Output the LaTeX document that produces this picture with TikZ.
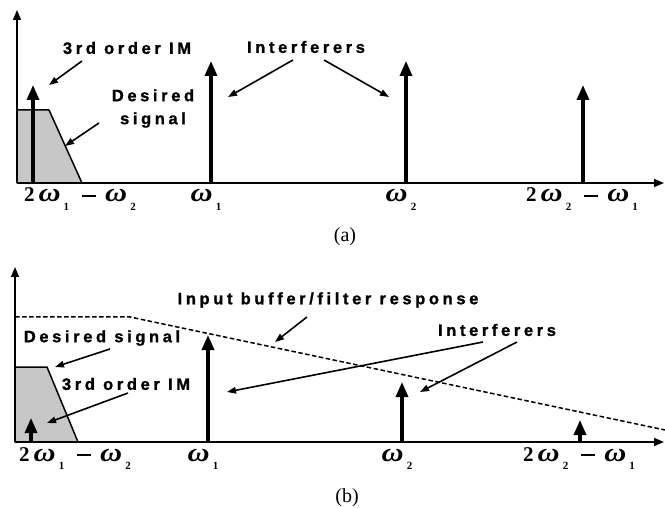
\documentclass[tikz,border=0pt]{standalone}
\usepackage{fontspec}
\usepackage{graphicx}
\usepackage{tikz}
\usetikzlibrary{arrows.meta}
\newfontfamily\notefont{Liberation Sans}[LetterSpace=22, FakeBold=1.2]
\newfontfamily\lblfont{Liberation Serif}
\newcommand{\wsub}[1]{\scalebox{1.45}[1.25]{\textit{ω}}\hspace{3pt}\raisebox{-8.5pt}{\fontsize{11}{12}\selectfont #1}}
\newcommand{\imlbl}[2]{2\hspace{4pt}\wsub{#1}\hspace{13pt}\rule[5pt]{14pt}{1.6pt}\hspace{9pt}\wsub{#2}}

\begin{document}
\begin{tikzpicture}[
    x=1pt, y=-1pt,
    axis/.style={line width=1.6pt, -{Triangle[length=10pt,width=8pt]}},
    tone/.style={line width=3.2pt, -{Triangle[length=15pt,width=12pt]}},
    band/.style={draw, line width=1.5pt, fill=black!22, line join=round},
    resp/.style={line width=1.5pt, dash pattern=on 4.5pt off 2.5pt},
    note/.style={font=\notefont\bfseries\fontsize{16.5}{23}\selectfont, inner sep=0pt, align=center},
    pointer/.style={line width=1.6pt, -{Triangle[length=9pt,width=6.5pt]}},
    flbl/.style={font=\lblfont\bfseries\fontsize{21}{24}\selectfont, anchor=base, inner sep=0pt},
    sublbl/.style={font=\lblfont\fontsize{20}{24}\selectfont, inner sep=0pt}
]
\useasboundingbox (0,0) rectangle (665,508);
%% Panel (a)
% --- Desired signal band and axes ---
\coordinate (oA) at (17,183);
\coordinate (yA) at (17,10);
\coordinate (xA) at (664,183);
\draw[band] (oA) -- (17,110) -- (49,110) -- (82,183) -- cycle;
\draw[axis] (oA) -- (yA);
\draw[axis] (oA) -- (xA);
% --- Tones: 3rd order IM, interferers ---
\foreach \n/\x/\h in {imA/33/85, wlA/211/61, whA/406/61, ixA/583/85} {
    \coordinate (\n b) at (\x,183);
    \coordinate (\n t) at (\x,\h);
    \draw[tone] (\n b) -- (\n t);
}
% --- Frequency labels ---
\node[flbl] (fImA) at (80,202)  {\imlbl{1}{2}};
\node[flbl] (fWlA) at (206,202) {\wsub{1}};
\node[flbl] (fWhA) at (401,202) {\wsub{2}};
\node[flbl] (fIxA) at (582,202) {\imlbl{2}{1}};
% --- Notes with pointers ---
\node[note] (nImA)  at (127,48)    {3rd order IM};
\node[note] (nSigA) at (153,108.5) {Desired\\signal};
\node[note] (nIntA) at (306,47)    {Interferers};
\coordinate (sImA)  at (82,61);   \coordinate (pImA)  at (49,85);
\coordinate (sSigA) at (99,123);  \coordinate (pSigA) at (65,146);
\coordinate (sIntA) at (293,60);  \coordinate (pIntA) at (228,97);
\coordinate (sIntB) at (324,60);  \coordinate (pIntB) at (389,97);
\draw[pointer] (sImA) -- (pImA);
\draw[pointer] (sSigA) -- (pSigA);
\draw[pointer] (sIntA) -- (pIntA);
\draw[pointer] (sIntB) -- (pIntB);
\node[sublbl] (capA) at (345,237) {(a)};

%% Panel (b)
% --- Desired signal band and axes ---
\coordinate (oB) at (15,442);
\coordinate (yB) at (15,267);
\coordinate (xB) at (664,442);
\draw[band] (oB) -- (15,367) -- (47,367) -- (78,442) -- cycle;
\draw[axis] (oB) -- (yB);
\draw[axis] (oB) -- (xB);
% --- Filter response ---
\coordinate (r0) at (15,317);
\coordinate (r1) at (130,317);
\coordinate (r2) at (665,430);
\draw[resp] (r0) -- (r1) -- (r2);
% --- Tones after filtering ---
\foreach \n/\x/\h in {imB/31/418, wlB/208/335, whB/402/382, ixB/580/420} {
    \coordinate (\n b) at (\x,442);
    \coordinate (\n t) at (\x,\h);
    \draw[tone] (\n b) -- (\n t);
}
% --- Frequency labels ---
\node[flbl] (fImB) at (75,461)  {\imlbl{1}{2}};
\node[flbl] (fWlB) at (203,461) {\wsub{1}};
\node[flbl] (fWhB) at (397,461) {\wsub{2}};
\node[flbl] (fIxB) at (579,461) {\imlbl{2}{1}};
% --- Notes with pointers ---
\node[note] (nResB) at (328,300) {Input buffer/filter response};
\node[note] (nIntB) at (497,330) {Interferers};
\node[note] (nSigB) at (102,338) {Desired signal};
\node[note] (nImB)  at (126,384) {3rd order IM};
\coordinate (sResB) at (307,317); \coordinate (pResB) at (275,342);
\coordinate (sIntC) at (483,342); \coordinate (pIntC) at (227,392);
\coordinate (sIntD) at (517,342); \coordinate (pIntD) at (420,392);
\coordinate (sSigB) at (110,349); \coordinate (pSigB) at (55,367);
\coordinate (sImB)  at (128,393); \coordinate (pImB)  at (47,423);
\draw[pointer] (sResB) -- (pResB);
\draw[pointer] (sIntC) -- (pIntC);
\draw[pointer] (sIntD) -- (pIntD);
\draw[pointer] (sSigB) -- (pSigB);
\draw[pointer] (sImB) -- (pImB);
\node[sublbl] (capB) at (347,498) {(b)};
\end{tikzpicture}
\end{document}
